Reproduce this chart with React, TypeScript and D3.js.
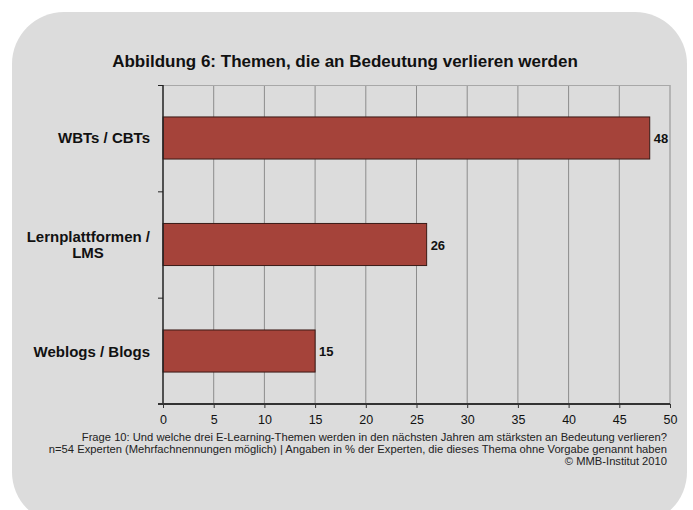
import * as d3 from "d3"
import { useEffect, useRef } from "react"

const categories = ["WBTs / CBTs", "Lernplattformen / LMS", "Weblogs / Blogs"]
const values = [48, 26, 15]
const xTicks = [0, 5, 10, 15, 20, 25, 30, 35, 40, 45, 50]
const notes = [
    "Frage 10: Und welche drei E-Learning-Themen werden in den nächsten Jahren am stärksten an Bedeutung verlieren?",
    "n=54 Experten (Mehrfachnennungen möglich) | Angaben in % der Experten, die dieses Thema ohne Vorgabe genannt haben",
    "© MMB-Institut 2010",
]
const labelLines: Record<string, string[]> = {
    "Lernplattformen / LMS": ["Lernplattformen /", "LMS"],
}

export default function App() {
    const ref = useRef<SVGSVGElement | null>(null)

    useEffect(() => {
        const width = 693
        const height = 510
        const svg = d3.select(ref.current)
        svg.selectAll("*").remove()
        svg.attr("width", width).attr("height", height)
            .style("position", "absolute").style("left", 0).style("top", 0)
            .style("font-family", "'Liberation Sans', Arial, sans-serif")

        svg.append("rect")
            .attr("x", 12).attr("y", 12)
            .attr("width", 675).attr("height", 512)
            .attr("rx", 52)
            .attr("fill", "#dcdcdc")

        const left = 163
        const right = 670
        const top = 85
        const bottom = 404

        const x = d3.scaleLinear().domain([0, 50]).range([left, right])
        const y = d3.scaleBand().domain(categories).range([top, bottom]).paddingInner(0.605).paddingOuter(0.3)

        svg.append("text")
            .attr("x", 345).attr("y", 67)
            .attr("text-anchor", "middle")
            .attr("font-weight", "bold")
            .attr("font-size", 17)
            .attr("fill", "#111")
            .text("Abbildung 6: Themen, die an Bedeutung verlieren werden")

        // gridlines
        svg.append("g")
            .selectAll("line")
            .data(xTicks.slice(1))
            .join("line")
            .attr("x1", d => x(d)).attr("x2", d => x(d))
            .attr("y1", top).attr("y2", bottom)
            .attr("stroke", "#8c8c8c")

        // top border (light)
        svg.append("line")
            .attr("x1", left - 5).attr("x2", right)
            .attr("y1", top + 0.5).attr("y2", top + 0.5)
            .attr("stroke", "#a8a8a8")

        svg.append("g")
            .selectAll("rect")
            .data(categories)
            .join("rect")
            .attr("x", left)
            .attr("y", d => y(d)!)
            .attr("width", (d, i) => x(values[i]) - left)
            .attr("height", y.bandwidth())
            .attr("fill", "#a5433a")
            .attr("stroke", "#3a1a16")

        svg.append("g")
            .selectAll("text")
            .data(categories)
            .join("text")
            .attr("x", (d, i) => x(values[i]) + 4)
            .attr("y", d => y(d)! + y.bandwidth() / 2 + 5)
            .attr("font-weight", "bold")
            .attr("font-size", 13)
            .attr("fill", "#111")
            .text((d, i) => values[i])

        // category labels
        const lab = svg.append("g")
            .attr("font-weight", "bold")
            .attr("font-size", 15)
            .attr("fill", "#111")
        categories.forEach(c => {
            const lines = labelLines[c] || [c]
            const cy = y(c)! + y.bandwidth() / 2
            lines.forEach((l, j) => {
                const t = lab.append("text")
                    .attr("y", cy + 5.5 + (j - (lines.length - 1) / 2) * 16)
                    .text(l)
                if (lines.length > 1 && j > 0) {
                    t.attr("text-anchor", "middle").attr("x", 88)
                } else {
                    t.attr("text-anchor", "end").attr("x", 150)
                }
            })
        })

        // y axis
        const step = (bottom - top) / categories.length
        svg.append("line")
            .attr("x1", left).attr("x2", left)
            .attr("y1", top).attr("y2", bottom)
            .attr("stroke", "#222").attr("stroke-width", 1.5)
        svg.append("g")
            .selectAll("line")
            .data(d3.range(categories.length))
            .join("line")
            .attr("x1", left - 5).attr("x2", left)
            .attr("y1", d => top + d * step + 0.5).attr("y2", d => top + d * step + 0.5)
            .attr("stroke", "#222")

        // x axis
        const xa = svg.append("g")
            .attr("transform", `translate(0,${bottom})`)
            .call(d3.axisBottom(x).tickValues(xTicks).tickSize(4).tickPadding(7).tickSizeOuter(0))
        xa.select(".domain").attr("stroke", "#333").attr("stroke-width", 2)
            .attr("d", `M${left - 5},0H${right}`)
        xa.selectAll(".tick line").attr("stroke", "#333")
        xa.selectAll("text")
            .attr("font-size", 12.5)
            .attr("font-family", "'Liberation Sans', Arial, sans-serif")
            .attr("fill", "#111")

        svg.append("g")
            .attr("font-size", 11.2)
            .attr("text-anchor", "end")
            .attr("fill", "#222")
            .selectAll("text")
            .data(notes)
            .join("text")
            .attr("x", 667)
            .attr("y", (d, i) => 441 + i * 12)
            .text(d => d)
    }, [])

    return <svg ref={ref} />
}
